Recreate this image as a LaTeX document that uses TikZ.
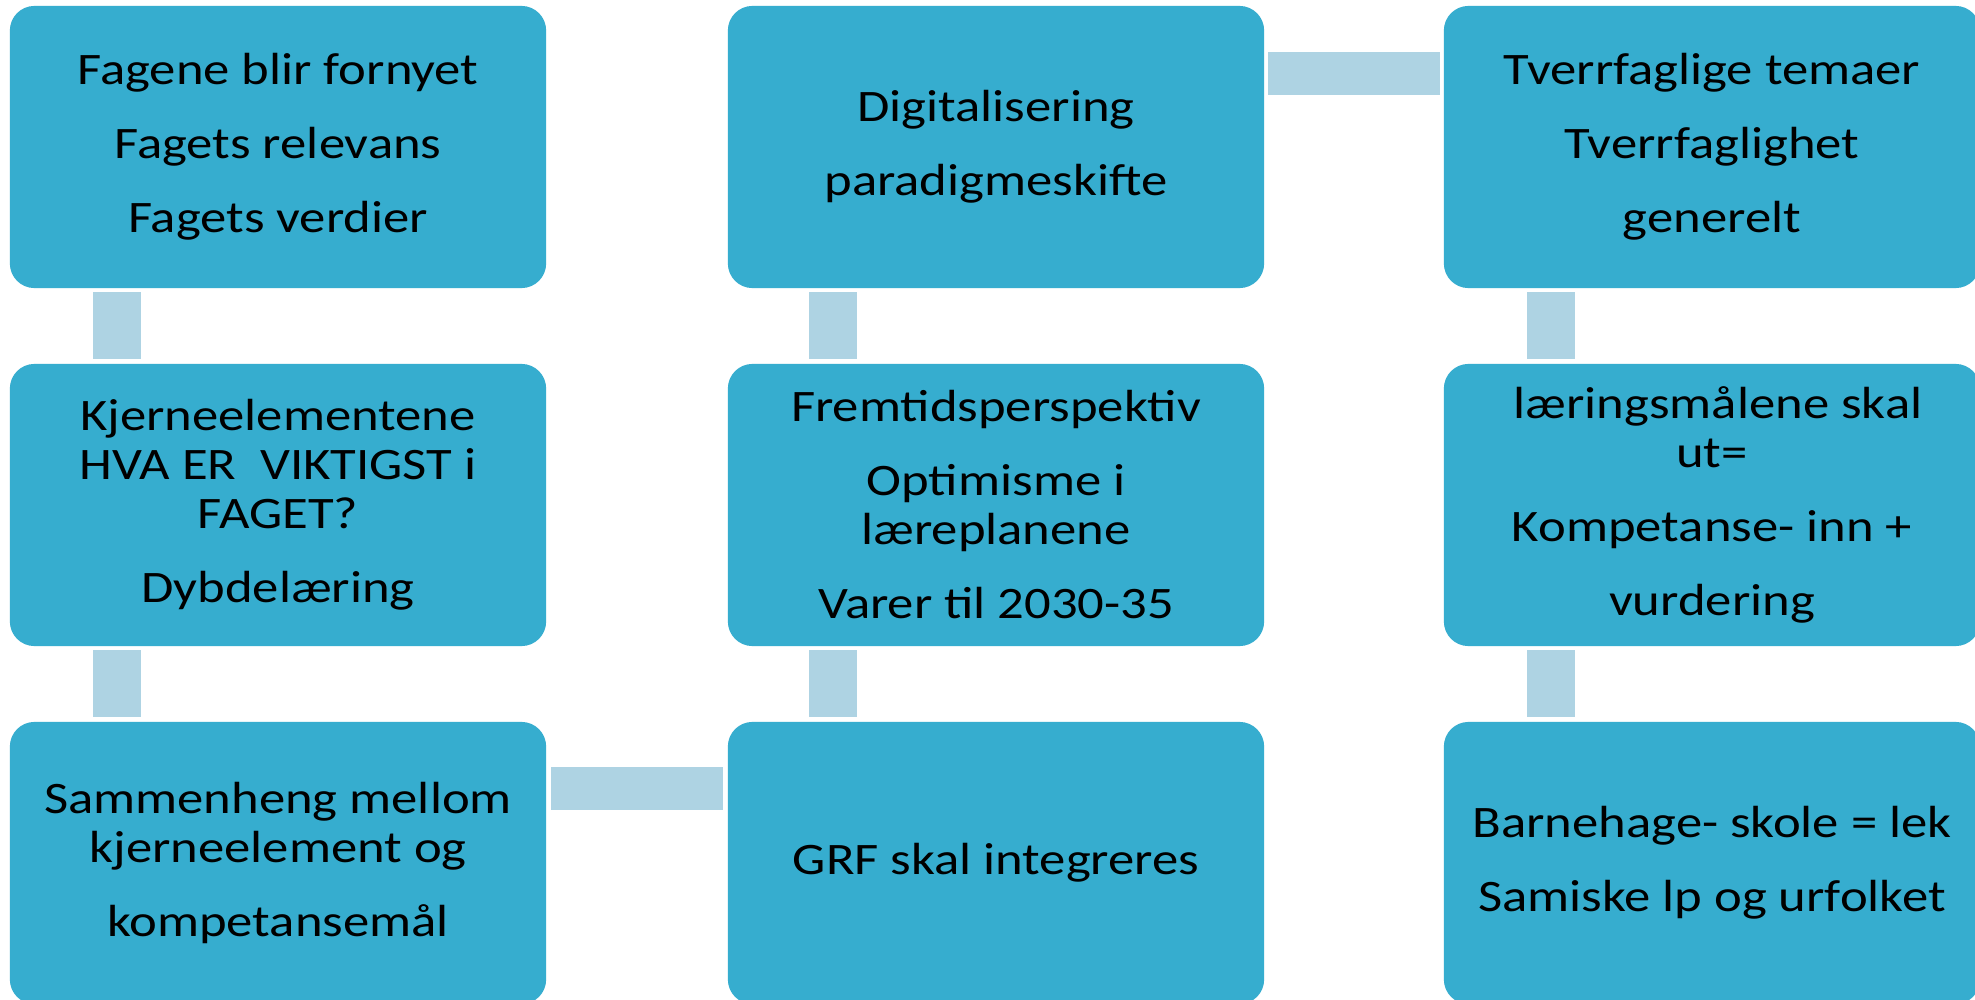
\documentclass[tikz,border=0pt]{standalone}
\usepackage{fontspec}
\setmainfont{Carlito}[FakeStretch=1.17]
\usetikzlibrary{calc}
\definecolor{boxblue}{RGB}{54,173,207}
\definecolor{linkblue}{RGB}{174,211,227}
\newcommand{\pg}{\\[7.1pt]}
\begin{document}
\begin{tikzpicture}[x=0.01cm,y=-0.01cm,
  box/.style={rectangle,rounded corners=7pt,fill=boxblue,draw=none,
    minimum width=5.36cm,minimum height=2.82cm,inner sep=0pt,align=center,
    text=black,font=\fontsize{12.8pt}{13.94pt}\selectfont},
  link/.style={fill=linkblue,draw=none}]
\useasboundingbox (0,0) rectangle (1975,1000);
\clip (0,0) rectangle (1975,1000);
\fill[white] (0,0) rectangle (1975,1000);
% column 1
\node[box] (a1) at (278,147) {Fagene blir fornyet\pg Fagets relevans\pg Fagets verdier};
\node[box] (a2) at (278,505) {Kjerneelementene\\ HVA ER\ \ VIKTIGST i\\ FAGET?\pg Dybdelæring};
\node[box] (a3) at (278,863) {Sammenheng mellom\\ kjerneelement og\pg kompetansemål};
% column 2
\node[box] (b1) at (996,147) {Digitalisering\pg paradigmeskifte};
\node[box] (b2) at (996,505) {Fremtidsperspektiv\pg Optimisme i\\ læreplanene\pg Varer til 2030-35};
\node[box] (b3) at (996,863) {GRF skal integreres};
% column 3
\node[box] (c1) at (1712,147) {Tverrfaglige temaer\pg Tverrfaglighet\pg generelt};
\node[box] (c2) at (1712,505) {\ læringsmålene skal\\ ut=\pg Kompetanse- inn +\pg vurdering};
\node[box] (c3) at (1712,863) {Barnehage- skole = lek\pg Samiske lp og urfolket};
% vertical links
\fill[link] ($(a1.south west)+(84,3)$) rectangle ($(a2.north west)+(132,-4)$);
\fill[link] ($(a2.south west)+(84,3)$) rectangle ($(a3.north west)+(132,-4)$);
\fill[link] ($(b1.south west)+(82,3)$) rectangle ($(b2.north west)+(130,-4)$);
\fill[link] ($(b2.south west)+(82,3)$) rectangle ($(b3.north west)+(130,-4)$);
\fill[link] ($(c1.south west)+(84,3)$) rectangle ($(c2.north west)+(132,-4)$);
\fill[link] ($(c2.south west)+(84,3)$) rectangle ($(c3.north west)+(132,-4)$);
% horizontal links
\fill[link] ($(b1.north east)+(3,47)$) rectangle ($(c1.north west)+(-3,90)$);
\fill[link] ($(a3.north east)+(4,46)$) rectangle ($(b3.north west)+(-4,89)$);
\end{tikzpicture}
\end{document}
